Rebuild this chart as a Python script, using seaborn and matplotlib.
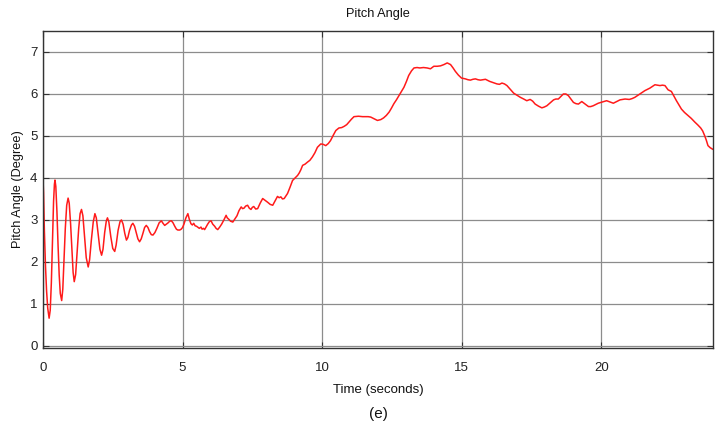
import matplotlib
matplotlib.use("Agg")
import matplotlib.pyplot as plt
import seaborn as sns
import pandas as pd

# Pitch angle response (seconds, degrees)
time_s = [
    0.00, 0.02, 0.05, 0.09, 0.13, 0.17, 0.22, 0.26, 0.30, 0.34, 0.38, 0.41,
    0.43, 0.46, 0.50, 0.54, 0.58, 0.62, 0.67, 0.71, 0.75, 0.80, 0.85, 0.90,
    0.94, 0.99, 1.04, 1.08, 1.12, 1.17, 1.22, 1.28, 1.33, 1.38, 1.43, 1.49,
    1.55, 1.62, 1.67, 1.73, 1.80, 1.86, 1.91, 1.97, 2.04, 2.10, 2.15, 2.21,
    2.27, 2.31, 2.36, 2.43, 2.50, 2.57, 2.62, 2.69, 2.76, 2.81, 2.87, 2.93,
    2.99, 3.04, 3.10, 3.17, 3.22, 3.28, 3.34, 3.40, 3.46, 3.52, 3.58, 3.64,
    3.70, 3.76, 3.82, 3.88, 3.94, 4.01, 4.08, 4.16, 4.24, 4.30, 4.36, 4.42,
    4.48, 4.54, 4.60, 4.66, 4.72, 4.78, 4.83, 4.90, 4.95, 5.00, 5.05, 5.12,
    5.19, 5.24, 5.30, 5.35, 5.40, 5.45, 5.50, 5.56, 5.60, 5.66, 5.70, 5.75,
    5.79, 5.85, 5.90, 5.96, 6.02, 6.08, 6.15, 6.20, 6.26, 6.33, 6.40, 6.48,
    6.56, 6.60, 6.65, 6.72, 6.80, 6.87, 6.95, 7.02, 7.10, 7.15, 7.20, 7.26,
    7.33, 7.39, 7.45, 7.50, 7.55, 7.62, 7.69, 7.78, 7.87, 7.95, 8.05, 8.14,
    8.23, 8.31, 8.40, 8.46, 8.52, 8.58, 8.64, 8.70, 8.76, 8.85, 8.94, 9.03,
    9.12, 9.18, 9.24, 9.30, 9.39, 9.48, 9.56, 9.65, 9.74, 9.83, 9.95, 10.04,
    10.13, 10.22, 10.30, 10.40, 10.49, 10.60, 10.70, 10.79, 10.88, 10.96,
    11.05, 11.14, 11.30, 11.45, 11.56, 11.65, 11.74, 11.86, 11.98, 12.10,
    12.20, 12.30, 12.40, 12.48, 12.57, 12.66, 12.75, 12.84, 12.93, 13.02,
    13.10, 13.20, 13.29, 13.40, 13.50, 13.63, 13.76, 13.88, 14.00, 14.12,
    14.24, 14.36, 14.48, 14.60, 14.69, 14.77, 14.88, 14.99, 15.13, 15.22,
    15.31, 15.40, 15.49, 15.58, 15.67, 15.76, 15.85, 16.00, 16.13, 16.26,
    16.35, 16.44, 16.53, 16.62, 16.74, 16.86, 16.98, 17.10, 17.22, 17.33,
    17.45, 17.54, 17.63, 17.75, 17.87, 17.96, 18.05, 18.17, 18.29, 18.37,
    18.46, 18.55, 18.64, 18.73, 18.82, 18.91, 19.00, 19.09, 19.18, 19.30,
    19.42, 19.54, 19.62, 19.71, 19.80, 19.89, 20.04, 20.19, 20.31, 20.43,
    20.55, 20.67, 20.76, 20.85, 21.00, 21.10, 21.20, 21.29, 21.38, 21.47,
    21.56, 21.65, 21.74, 21.83, 21.92, 22.01, 22.10, 22.19, 22.28, 22.39,
    22.51, 22.60, 22.69, 22.78, 22.87, 22.98, 23.10, 23.22, 23.35, 23.46,
    23.56, 23.63, 23.70, 23.76, 23.82, 23.90, 24.00,
]
pitch_deg = [
    4.00, 3.65, 2.75, 1.90, 1.30, 0.90, 0.66, 0.85, 1.50, 2.50, 3.45, 3.85,
    3.95, 3.80, 3.20, 2.40, 1.70, 1.25, 1.08, 1.35, 2.00, 2.80, 3.35, 3.52,
    3.40, 2.90, 2.25, 1.75, 1.53, 1.70, 2.20, 2.80, 3.15, 3.25, 3.10, 2.60,
    2.10, 1.88, 2.05, 2.50, 2.95, 3.15, 3.05, 2.70, 2.30, 2.16, 2.30, 2.70,
    2.98, 3.05, 2.95, 2.60, 2.32, 2.25, 2.40, 2.75, 2.96, 3.00, 2.90, 2.68,
    2.52, 2.58, 2.75, 2.88, 2.92, 2.85, 2.70, 2.55, 2.48, 2.55, 2.68, 2.82,
    2.87, 2.82, 2.72, 2.65, 2.64, 2.70, 2.80, 2.93, 2.98, 2.92, 2.87, 2.90,
    2.93, 2.97, 2.98, 2.93, 2.85, 2.78, 2.76, 2.76, 2.78, 2.82, 2.90, 3.05,
    3.15, 3.02, 2.91, 2.88, 2.92, 2.86, 2.85, 2.82, 2.80, 2.83, 2.78, 2.80,
    2.77, 2.84, 2.90, 2.96, 2.98, 2.90, 2.85, 2.80, 2.77, 2.83, 2.90, 3.00,
    3.11, 3.05, 3.02, 2.97, 2.95, 3.02, 3.10, 3.22, 3.31, 3.27, 3.28, 3.33,
    3.35, 3.28, 3.25, 3.30, 3.32, 3.26, 3.27, 3.40, 3.51, 3.47, 3.42, 3.37,
    3.35, 3.45, 3.56, 3.53, 3.55, 3.50, 3.51, 3.57, 3.63, 3.78, 3.94, 4.00,
    4.06, 4.12, 4.20, 4.30, 4.33, 4.38, 4.42, 4.50, 4.60, 4.73, 4.81, 4.80,
    4.77, 4.82, 4.89, 5.02, 5.13, 5.19, 5.20, 5.23, 5.27, 5.33,
    5.40, 5.46, 5.47, 5.46, 5.46, 5.46, 5.45, 5.41, 5.37, 5.39,
    5.43, 5.49, 5.57, 5.66, 5.77, 5.86, 5.96, 6.06, 6.16, 6.30,
    6.44, 6.55, 6.62, 6.63, 6.62, 6.63, 6.62, 6.60, 6.66, 6.66,
    6.67, 6.70, 6.74, 6.70, 6.62, 6.54, 6.45, 6.38, 6.36, 6.34,
    6.33, 6.35, 6.36, 6.34, 6.33, 6.34, 6.35, 6.30, 6.27, 6.24,
    6.23, 6.26, 6.24, 6.20, 6.11, 6.02, 5.97, 5.92, 5.88, 5.84,
    5.87, 5.83, 5.76, 5.71, 5.67, 5.69, 5.72, 5.79, 5.86, 5.88,
    5.88, 5.94, 6.00, 6.00, 5.96, 5.88, 5.80, 5.77, 5.76, 5.82,
    5.76, 5.70, 5.70, 5.72, 5.75, 5.78, 5.81, 5.84, 5.81, 5.78,
    5.82, 5.86, 5.87, 5.88, 5.87, 5.89, 5.92, 5.96, 6.00, 6.04,
    6.08, 6.11, 6.14, 6.18, 6.22, 6.21, 6.20, 6.21, 6.20, 6.10,
    6.06, 5.95, 5.84, 5.74, 5.64, 5.56, 5.49, 5.42, 5.33, 5.26,
    5.19, 5.12, 5.01, 4.90, 4.77, 4.72, 4.68,
]
x_ticks = [0, 5, 10, 15, 20]
y_ticks = [0, 1, 2, 3, 4, 5, 6, 7]

sns.set_theme(style="whitegrid")
plt.rcParams["font.family"] = ["Liberation Sans", "DejaVu Sans"]

df = pd.DataFrame({"Time (seconds)": time_s, "Pitch Angle (Degree)": pitch_deg})

fig = plt.figure(figsize=(7.15, 4.23), dpi=100)
ax = fig.add_axes([0.0601, 0.1773, 0.9371, 0.7494])

sns.lineplot(data=df, x="Time (seconds)", y="Pitch Angle (Degree)", ax=ax,
             color="#ff1a1a", linewidth=1.1, sort=False, estimator=None)

ax.set_xlim(0, 24)
ax.set_ylim(-0.05, 7.5)
ax.set_xticks(x_ticks)
ax.set_yticks(y_ticks)

ax.grid(True, color="#8c8c8c", linewidth=0.9)
for spine in ax.spines.values():
    spine.set_color("#333333")
    spine.set_linewidth(1.0)
ax.tick_params(axis="both", which="both", direction="in", length=4, width=0.8,
               colors="#333333", labelcolor="#222222", labelsize=9.5,
               top=True, right=True, bottom=True, left=True)
ax.tick_params(axis="x", pad=10)
ax.tick_params(axis="y", pad=4)

ax.set_title("Pitch Angle", fontsize=9.2, color="#111111", pad=10)
ax.set_xlabel("Time (seconds)", fontsize=9.5, color="#111111", labelpad=7)
ax.set_ylabel("Pitch Angle (Degree)", fontsize=9.2, color="#111111", labelpad=4)

# Sub-figure tag, kept just inside the bottom edge
fig.text(0.529, 1 - 407 / 423, "(e)", ha="center", va="top", fontsize=11,
         color="#111111")

fig.savefig("out.png", dpi=100, facecolor="white")
